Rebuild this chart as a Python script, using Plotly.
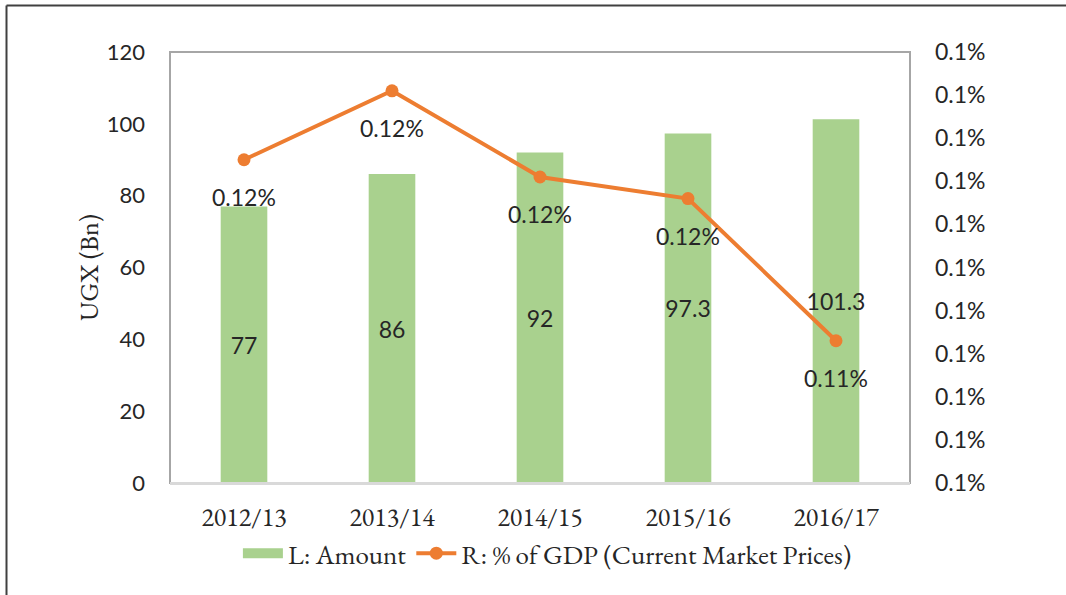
import plotly.graph_objects as go

categories = ["2012/13", "2013/14", "2014/15", "2015/16", "2016/17"]
amount = [77, 86, 92, 97.3, 101.3]
amount_labels = ["77", "86", "92", "97.3", "101.3"]
gdp_share = [0.001175, 0.001191, 0.001171, 0.001166, 0.001133]  # fraction
gdp_labels = ["0.12%", "0.12%", "0.12%", "0.12%", "0.11%"]

GREEN = "#a9d18e"
ORANGE = "#ed7d31"
TXT = "#262626"
SERIF = "EB Garamond, Liberation Serif, DejaVu Serif, serif"
SANS = "Lato, Open Sans, sans-serif"

fig = go.Figure()
fig.add_trace(go.Bar(
    x=categories, y=amount, name="L: Amount",
    marker=dict(color=GREEN, line=dict(width=0)),
    width=0.315, showlegend=False,
    text=amount_labels, textposition="inside", insidetextanchor="middle",
    constraintext="none",
    textfont=dict(family=SANS, size=23, color=TXT),
    textangle=0, yaxis="y",
))
# legend entry for bars drawn as a wide green block
fig.add_trace(go.Scatter(
    x=[None], y=[None], name="L: Amount", mode="lines",
    line=dict(color=GREEN, width=17), showlegend=True,
))
fig.add_trace(go.Scatter(
    x=categories, y=gdp_share, name="R: % of GDP (Current Market Prices)",
    mode="lines+markers",
    line=dict(color=ORANGE, width=4),
    marker=dict(color=ORANGE, size=13),
    yaxis="y2",
))
for c, v, t in zip(categories, gdp_share, gdp_labels):
    fig.add_annotation(x=c, y=v, xref="x", yref="y2", text=t, showarrow=False,
                       yshift=-37, font=dict(family=SANS, size=23, color=TXT))

W, H = 1066, 595
L, T = 170, 52
pw, ph = 740, 431
R = W - L - pw
B = H - T - ph

fig.update_layout(
    width=W, height=H,
    margin=dict(l=L, r=R, t=T, b=B),
    paper_bgcolor="white", plot_bgcolor="white",
    bargap=0.685,
    showlegend=True,
    legend=dict(orientation="h", x=0.51, xanchor="center", y=-0.107, yanchor="top",
                bgcolor="rgba(0,0,0,0)",
                font=dict(family=SERIF, size=27, color=TXT), traceorder="normal",
                itemwidth=40, tracegroupgap=0),
    xaxis=dict(showgrid=False, showline=True, linecolor="#d9d9d9", linewidth=2,
               ticks="", tickfont=dict(family=SERIF, size=26, color=TXT),
               ticklabelstandoff=10, mirror=False),
    yaxis=dict(range=[0, 120], dtick=20, showgrid=False, zeroline=False,
               showline=False, ticks="",
               tickfont=dict(family=SANS, size=22, color=TXT),
               title=dict(text="UGX (Bn)", font=dict(family=SERIF, size=26, color=TXT), standoff=0),
               ticklabelstandoff=24),
    yaxis2=dict(range=[0.00110, 0.00120], dtick=0.00001, tickformat=".1%",
                overlaying="y", side="right", showgrid=False, zeroline=False,
                showline=False, ticks="",
                tickfont=dict(family=SANS, size=23, color=TXT),
                ticklabelstandoff=24),
)

# plot-area frame
fig.add_shape(type="rect", xref="paper", yref="paper", x0=0, x1=1, y0=0, y1=1,
              line=dict(color="#a6a6a6", width=2), fillcolor="rgba(0,0,0,0)", layer="below")
fig.add_shape(type="line", xref="paper", yref="paper", x0=0, x1=1, y0=0, y1=0,
              line=dict(color="#d9d9d9", width=2))
# outer border (left and top)
xl = (6.5 - L) / pw
yt = 1 + (T - 5.5) / ph
fig.add_shape(type="line", xref="paper", yref="paper", x0=xl, x1=xl, y0=-B / ph - 0.05, y1=yt,
              line=dict(color="#404040", width=2))
fig.add_shape(type="line", xref="paper", yref="paper", x0=xl, x1=(W - L) / pw + 0.05, y0=yt, y1=yt,
              line=dict(color="#404040", width=2))

fig.write_html("out.html", config={"displayModeBar": False},
               post_script="document.body.style.margin='0';")
